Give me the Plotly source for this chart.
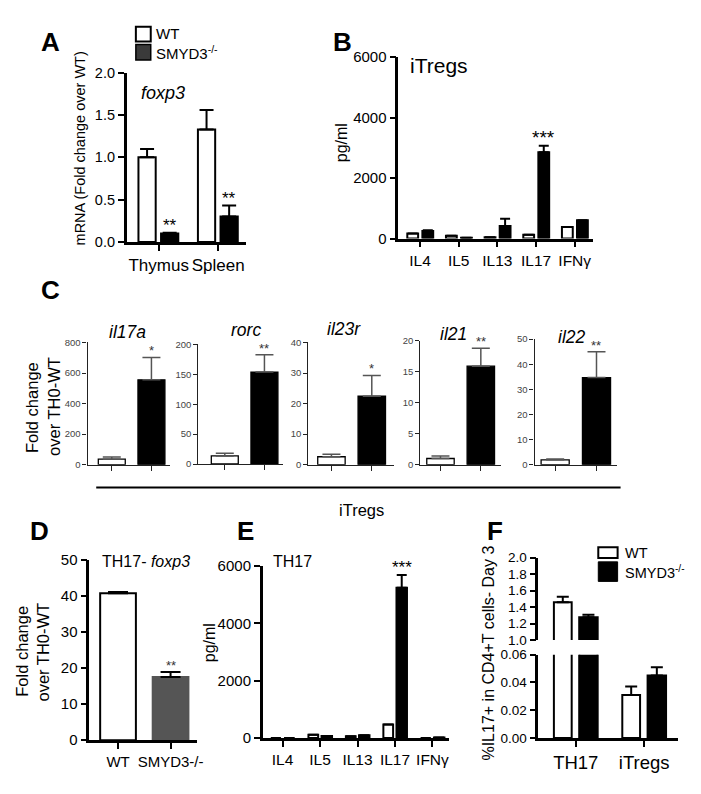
import plotly.graph_objects as go

WIN_W, WIN_H = 701, 794
PAD = 8  # default page body margin
W, H = WIN_W - 2 * PAD, WIN_H - 2 * PAD


def fx(px):
    return (px - PAD) / W


def fy(py):
    return 1 - (py - PAD) / H


# ---------------- DATA ----------------
A_cats = ["Thymus", "Spleen"]
A_wt = [1.0, 1.33]
A_wt_err = [0.10, 0.23]
A_ko = [0.10, 0.30]
A_ko_err = [0.01, 0.13]
A_stars = ["**", "**"]

B_cats = ["IL4", "IL5", "IL13", "IL17", "IFNγ"]
B_wt = [168, 90, 40, 123, 382]
B_wt_err = [0, 0, 0, 0, 0]
B_ko = [252, 30, 414, 2850, 608]
B_ko_err = [25, 0, 240, 220, 0]
B_stars = ["", "", "", "***", ""]

C_genes = ["il17a", "rorc", "il23r", "il21", "il22"]
C_wt = [36, 13.6, 2.6, 1.0, 1.95]
C_wt_err = [15, 4.4, 0.8, 0.42, 0.35]
C_ko = [555, 153.7, 22.4, 15.9, 34.7]
C_ko_err = [147, 29, 6.8, 2.9, 10.3]
C_stars = ["*", "**", "*", "**", "**"]
C_ymax = [800, 200, 40, 20, 50]
C_dtick = [200, 50, 10, 5, 10]

D_cats = ["WT", "SMYD3-/-"]
D_vals = [40.7, 17.5]
D_err = [0.3, 1.4]
D_stars = ["", "**"]

E_cats = ["IL4", "IL5", "IL13", "IL17", "IFNγ"]
E_wt = [0, 110, 55, 470, 0]
E_wt_err = [0, 0, 0, 0, 0]
E_ko = [0, 65, 90, 5240, 12]
E_ko_err = [0, 0, 0, 450, 0]
E_stars = ["", "", "", "***", ""]

F_cats = ["TH17", "iTregs"]
F_wt = [1.46, 0.031]
F_wt_err = [0.065, 0.006]
F_ko = [1.277, 0.045]
F_ko_err = [0.03, 0.006]

# ---------------- STYLE ----------------
SANS = "Liberation Sans, Arial, Helvetica"
BLACK = "#000000"

fig = go.Figure()
layout = dict(
    width=W, height=H, margin=dict(l=0, r=0, t=0, b=0), autosize=False,
    plot_bgcolor="white", paper_bgcolor="white", showlegend=False,
    barmode="overlay", font=dict(family=SANS, color=BLACK),
)
annotations = []
shapes = []


def axes(n, x0, x1, c0, unit, ytop, ybot, yr, xticks, xticktext,
         lw=2.5, lc=BLACK, ytickvals=None, ytickfmt=None, ysize=15,
         xsize=15.5, ycolor=BLACK, ticklen=6, xticklen=6, showx=True):
    sfx = "" if n == 1 else str(n)
    xr = [(x0 - c0) / unit, (x1 - c0) / unit]
    xa = dict(domain=[fx(x0), fx(x1)], range=xr, anchor="y" + sfx,
              showgrid=False, zeroline=False, fixedrange=True,
              showline=showx, linecolor=lc, linewidth=lw,
              ticks="outside" if showx else "", ticklen=xticklen,
              tickwidth=lw * 0.8, tickcolor=lc, tickangle=0,
              tickvals=xticks, ticktext=xticktext,
              showticklabels=showx and xticktext is not None,
              tickfont=dict(family=SANS, size=xsize, color=BLACK))
    ya = dict(domain=[fy(ybot), fy(ytop)], range=yr, anchor="x" + sfx,
              showgrid=False, zeroline=False, fixedrange=True,
              showline=True, linecolor=lc, linewidth=lw,
              ticks="outside", ticklen=ticklen, tickwidth=lw * 0.8,
              tickcolor=lc,
              tickfont=dict(family=SANS, size=ysize, color=ycolor))
    if ytickvals is not None:
        ya["tickvals"] = ytickvals
    if ytickfmt:
        ya["tickformat"] = ytickfmt
    layout["xaxis" + sfx] = xa
    layout["yaxis" + sfx] = ya
    return "x" + sfx, "y" + sfx


def errs(arr, color=BLACK, thick=2, width=6):
    return dict(type="data", symmetric=False, array=arr,
                arrayminus=[0] * len(arr), color=color, thickness=thick,
                width=width, visible=True)


def stars(xref, yref, xs, tops, labels, size=17, color=BLACK, shift=-4):
    for x, t, s in zip(xs, tops, labels):
        if s:
            annotations.append(dict(x=x, y=t, xref=xref, yref=yref, text=s,
                                    showarrow=False, yanchor="bottom",
                                    yshift=shift,
                                    font=dict(family=SANS, size=size,
                                              color=color)))


def text(px, py, s, size, family=SANS, angle=0, xanchor="center",
         yanchor="middle", color=BLACK):
    annotations.append(dict(x=fx(px), y=fy(py), xref="paper", yref="paper",
                            text=s, showarrow=False, textangle=angle,
                            xanchor=xanchor, yanchor=yanchor,
                            font=dict(family=family, size=size, color=color)))


# ---------------- PANEL A ----------------
xa, ya = axes(1, 127.7, 248, 160, 60, 65, 238, [0, 2],
              list(range(len(A_cats))), A_cats,
              ytickvals=[0, 0.5, 1, 1.5, 2], ytickfmt=".1f",
              ysize=14.5, xsize=17)
idx = list(range(len(A_cats)))
fig.add_bar(x=idx, y=A_wt, xaxis=xa, yaxis=ya, width=0.29, offset=-0.34,
            marker=dict(color="white", line=dict(color=BLACK, width=2)),
            error_y=errs(A_wt_err, width=7))
fig.add_bar(x=idx, y=A_ko, xaxis=xa, yaxis=ya, width=0.29, offset=0.04,
            marker=dict(color=BLACK, line=dict(color=BLACK, width=2)),
            error_y=errs(A_ko_err, width=7))
stars(xa, ya, [i + 0.185 for i in idx],
      [v + e for v, e in zip(A_ko, A_ko_err)], A_stars)
text(81, 142, "mRNA (Fold change over WT)", 14.5, angle=-90)
text(140, 86, "<i>foxp3</i>", 18, xanchor="left")
# legend A
shapes.append(dict(type="rect", xref="paper", yref="paper",
                   x0=fx(137), x1=fx(152), y0=fy(33), y1=fy(18),
                   line=dict(color=BLACK, width=2), fillcolor="white"))
shapes.append(dict(type="rect", xref="paper", yref="paper",
                   x0=fx(137), x1=fx(152), y0=fy(52), y1=fy(36),
                   line=dict(color=BLACK, width=1.5), fillcolor="#3a3a3a"))
text(155, 25, "WT", 15, xanchor="left")
text(155, 44, "SMYD3<sup>-/-</sup>", 15, xanchor="left")

# ---------------- PANEL B ----------------
xb, yb = axes(2, 401.7, 598, 423.7, 39, 49, 234.5, [0, 6000],
              list(range(len(B_cats))), B_cats,
              ytickvals=[0, 2000, 4000, 6000])
idx = list(range(len(B_cats)))
fig.add_bar(x=idx, y=B_wt, xaxis=xb, yaxis=yb, width=0.28, offset=-0.33,
            marker=dict(color="white", line=dict(color=BLACK, width=2)),
            error_y=errs(B_wt_err, width=5))
fig.add_bar(x=idx, y=B_ko, xaxis=xb, yaxis=yb, width=0.28, offset=0.06,
            marker=dict(color=BLACK, line=dict(color=BLACK, width=2)),
            error_y=errs(B_ko_err, width=5))
stars(xb, yb, [i + 0.2 for i in idx],
      [v + e for v, e in zip(B_ko, B_ko_err)], B_stars, size=19)
text(344, 137, "pg/ml", 16, angle=-90)
text(412, 58, "iTregs", 21, xanchor="left")

# ---------------- PANEL C ----------------
C_geom = [  # x0, x1, tick0, unit, ytop, ybot, title_x, title_y
    (88.3, 171.7, 112.7, 40, 340.7, 465.7, 129, 330),
    (200, 285, 226.7, 40, 342.7, 465, 248, 328),
    (311, 397.3, 334.3, 40.7, 340.7, 465.7, 347, 327),
    (424, 505, 444.3, 40.7, 339, 465.7, 457, 332),
    (539.3, 622, 560, 41.7, 337.3, 465.7, 577, 335),
]
for k, g in enumerate(C_geom):
    x0, x1, c0, unit, ytop, ybot, tx, ty = g
    ymax = C_ymax[k]
    xc, yc = axes(3 + k, x0, x1, c0, unit, ytop, ybot, [0, ymax],
                  [0, 1], None, lw=1.3, lc="#222222",
                  ytickvals=list(range(0, ymax + 1, C_dtick[k])),
                  ysize=9.5, ycolor="#444444", ticklen=4, xticklen=5)
    fig.add_bar(x=[0, 1], y=[C_wt[k], C_ko[k]], xaxis=xc, yaxis=yc,
                width=0.68,
                marker=dict(color=["white", BLACK],
                            line=dict(color=BLACK, width=1.3)),
                error_y=errs([C_wt_err[k], C_ko_err[k]], color="#555555",
                             thick=1.5, width=9))
    stars(xc, yc, [1], [C_ko[k] + C_ko_err[k]], [C_stars[k]], size=13,
          color="#333333", shift=-3)
    text(tx, ty, "<i>" + C_genes[k] + "</i>", 17.5)

text(32, 407, "Fold change", 16.5, angle=-90)
text(55, 406, "over TH0-WT", 16.5, angle=-90)
shapes.append(dict(type="line", xref="paper", yref="paper",
                   x0=fx(97), x1=fx(626), y0=fy(489), y1=fy(489),
                   line=dict(color=BLACK, width=2)))
text(365, 512, "iTregs", 16.5)

# ---------------- PANEL D ----------------
xd, yd = axes(8, 90, 199, 119, 53, 562.7, 747.3, [0, 50],
              [0, 1], D_cats, ytickvals=[0, 10, 20, 30, 40, 50],
              xsize=15)
fig.add_bar(x=[0, 1], y=D_vals, xaxis=xd, yaxis=yd, width=0.68,
            marker=dict(color=["white", "#555555"],
                        line=dict(color=[BLACK, "#555555"], width=2)),
            error_y=errs(D_err, width=10))
stars(xd, yd, [0, 1], [v + e for v, e in zip(D_vals, D_err)], D_stars,
      size=13, color="#333333", shift=-3)
text(147.5, 565, "TH17- <i>foxp3</i>", 16)
text(22, 656, "Fold change", 16.5, angle=-90)
text(43, 657, "over TH0-WT", 16.5, angle=-90)

# ---------------- PANEL E ----------------
xe, ye = axes(9, 265, 453, 285, 37.8, 569.3, 745, [0, 6000],
              list(range(len(E_cats))), E_cats,
              ytickvals=[0, 2000, 4000, 6000])
idx = list(range(len(E_cats)))
fig.add_bar(x=idx, y=E_wt, xaxis=xe, yaxis=ye, width=0.26, offset=-0.31,
            marker=dict(color="white", line=dict(color=BLACK, width=2)),
            error_y=errs(E_wt_err, width=5))
fig.add_bar(x=idx, y=E_ko, xaxis=xe, yaxis=ye, width=0.28, offset=0.04,
            marker=dict(color=BLACK, line=dict(color=BLACK, width=2)),
            error_y=errs(E_ko_err, width=5))
stars(xe, ye, [i + 0.18 for i in idx],
      [v + e for v, e in zip(E_ko, E_ko_err)], E_stars, size=17)
text(211, 648, "pg/ml", 16, angle=-90)
text(273, 565, "TH17", 16, xanchor="left")

# ---------------- PANEL F ----------------
# lower segment
xf, yf = axes(10, 543, 684, 580.8, 69, 660, 745, [0, 0.06],
              [0, 1], F_cats, ytickvals=[0, 0.02, 0.04, 0.06],
              ytickfmt=".2f", ysize=13.5, xsize=18.5)
# upper segment
xu, yu = axes(11, 543, 684, 580.8, 69, 560.7, 645, [1, 2],
              [0, 1], None, showx=False,
              ytickvals=[1.0, 1.2, 1.4, 1.6, 1.8, 2.0], ytickfmt=".1f",
              ysize=13.5)
idx = [0, 1]
for (xx, yy) in [(xf, yf), (xu, yu)]:
    fig.add_bar(x=idx, y=F_wt, xaxis=xx, yaxis=yy, width=0.26, offset=-0.32,
                marker=dict(color="white", line=dict(color=BLACK, width=2)),
                error_y=errs(F_wt_err, width=6))
    fig.add_bar(x=idx, y=F_ko, xaxis=xx, yaxis=yy, width=0.27, offset=0.05,
                marker=dict(color=BLACK, line=dict(color=BLACK, width=2)),
                error_y=errs(F_ko_err, width=6))
text(493, 658, "%IL17+ in CD4+T cells- Day 3", 16, angle=-90)
shapes.append(dict(type="rect", xref="paper", yref="paper",
                   x0=fx(603.5), x1=fx(623), y0=fy(561), y1=fy(550),
                   line=dict(color=BLACK, width=2), fillcolor="white"))
shapes.append(dict(type="rect", xref="paper", yref="paper",
                   x0=fx(603.5), x1=fx(623), y0=fy(585), y1=fy(565),
                   line=dict(color=BLACK, width=1), fillcolor=BLACK))
text(628, 555.5, "WT", 14.5, xanchor="left")
text(628, 575, "SMYD3<sup>-/-</sup>", 14.5, xanchor="left")

# ---------------- PANEL LETTERS ----------------
for L, px, py in [("A", 51, 34), ("B", 345, 34), ("C", 51, 287),
                  ("D", 40, 533), ("E", 248, 533), ("F", 499, 533)]:
    text(px, py, "<b>" + L + "</b>", 26, family="Liberation Sans, Arial")

layout["annotations"] = annotations
layout["shapes"] = shapes
fig.update_layout(**layout)
fig.write_html("out.html")
